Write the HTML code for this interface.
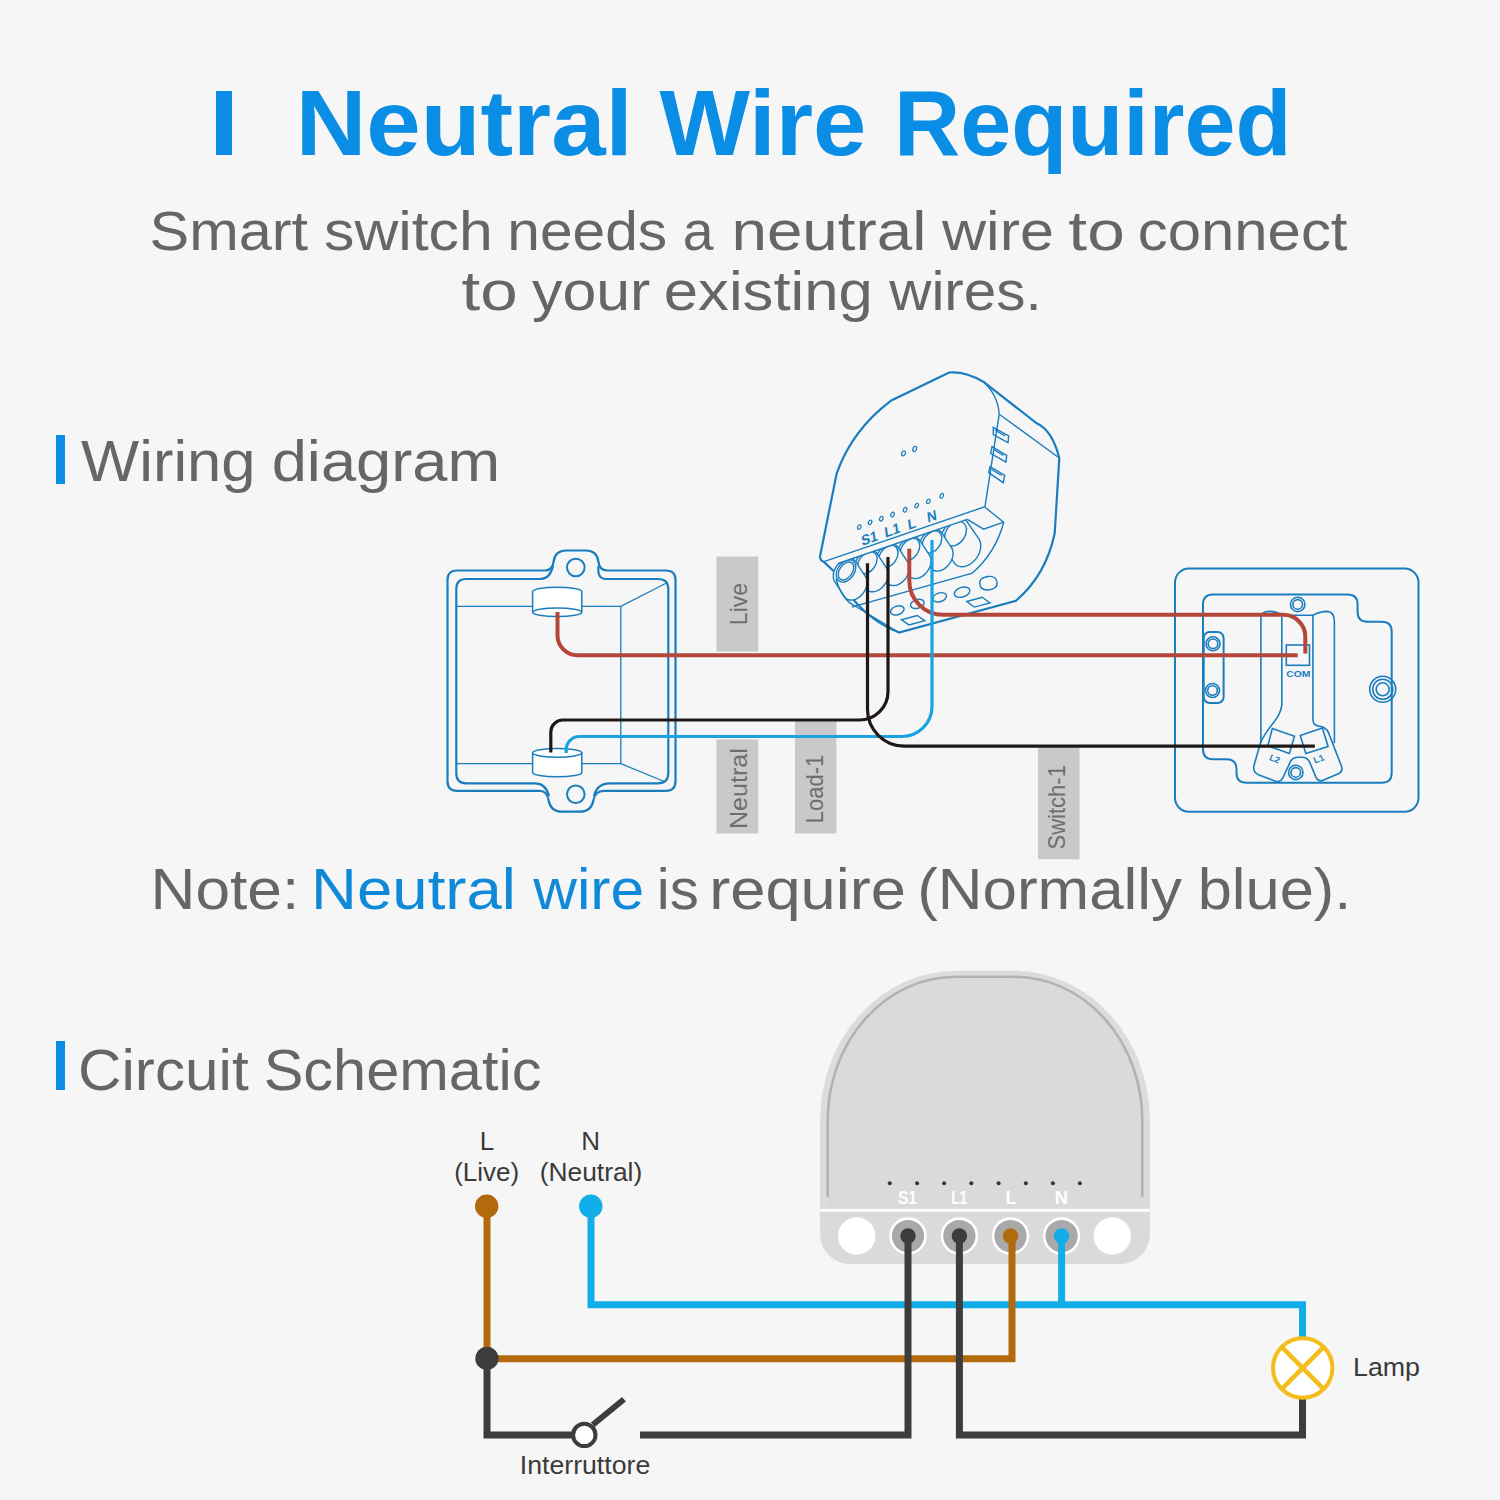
<!DOCTYPE html>
<html><head><meta charset="utf-8">
<style>
html,body{margin:0;padding:0;background:#f6f6f6;}
body{width:1500px;height:1500px;overflow:hidden;}
svg{display:block;}
text{font-family:"Liberation Sans",sans-serif;}
</style></head>
<body>
<svg width="1500" height="1500" viewBox="0 0 1500 1500">
<rect x="0" y="0" width="1500" height="1500" fill="#f6f6f6"/>
<!-- TITLE -->
<rect x="216" y="91" width="16" height="64" fill="#0a8de4"/>
<text x="295.69" y="155" font-size="93" font-weight="bold" fill="#0a8de4" textLength="337.07" lengthAdjust="spacingAndGlyphs">Neutral</text>
<text x="659.5" y="155" font-size="93" font-weight="bold" fill="#0a8de4" textLength="206.83" lengthAdjust="spacingAndGlyphs">Wire</text>
<text x="893.88" y="155" font-size="93" font-weight="bold" fill="#0a8de4" textLength="397.6" lengthAdjust="spacingAndGlyphs">Required</text>
<text x="149.52" y="249.5" font-size="56" fill="#666666" textLength="158.57" lengthAdjust="spacingAndGlyphs">Smart</text>
<text x="324.03" y="249.5" font-size="56" fill="#666666" textLength="168.77" lengthAdjust="spacingAndGlyphs">switch</text>
<text x="507.31" y="249.5" font-size="56" fill="#666666" textLength="159.89" lengthAdjust="spacingAndGlyphs">needs</text>
<text x="682.82" y="249.5" font-size="56" fill="#666666" textLength="30.83" lengthAdjust="spacingAndGlyphs">a</text>
<text x="731.45" y="249.5" font-size="56" fill="#666666" textLength="194.87" lengthAdjust="spacingAndGlyphs">neutral</text>
<text x="942.0" y="249.5" font-size="56" fill="#666666" textLength="111.93" lengthAdjust="spacingAndGlyphs">wire</text>
<text x="1068.39" y="249.5" font-size="56" fill="#666666" textLength="56.37" lengthAdjust="spacingAndGlyphs">to</text>
<text x="1137.86" y="249.5" font-size="56" fill="#666666" textLength="209.59" lengthAdjust="spacingAndGlyphs">connect</text>
<text x="461.6" y="309.5" font-size="56" fill="#666666" textLength="56.15" lengthAdjust="spacingAndGlyphs">to</text>
<text x="532.0" y="309.5" font-size="56" fill="#666666" textLength="118.32" lengthAdjust="spacingAndGlyphs">your</text>
<text x="663.8" y="309.5" font-size="56" fill="#666666" textLength="208.97" lengthAdjust="spacingAndGlyphs">existing</text>
<text x="889.2" y="309.5" font-size="56" fill="#666666" textLength="152.56" lengthAdjust="spacingAndGlyphs">wires.</text>
<!-- HEADINGS -->
<rect x="56" y="435" width="9" height="49" fill="#0a8de4"/>
<text x="81.1" y="480.5" font-size="57" fill="#666666" textLength="174.5" lengthAdjust="spacingAndGlyphs">Wiring</text>
<text x="271.68" y="480.5" font-size="57" fill="#666666" textLength="228.49" lengthAdjust="spacingAndGlyphs">diagram</text>
<rect x="56" y="1041" width="9" height="49" fill="#0a8de4"/>
<text x="78.03" y="1090" font-size="57" fill="#666666" textLength="170.61" lengthAdjust="spacingAndGlyphs">Circuit</text>
<text x="263.67" y="1090" font-size="57" fill="#666666" textLength="277.83" lengthAdjust="spacingAndGlyphs">Schematic</text>
<!-- NOTE -->
<text x="150.54" y="909" font-size="57" fill="#666666" textLength="148.69" lengthAdjust="spacingAndGlyphs">Note:</text>
<text x="311.13" y="909" font-size="57" fill="#108ad8" textLength="204.75" lengthAdjust="spacingAndGlyphs">Neutral</text>
<text x="533.2" y="909" font-size="57" fill="#108ad8" textLength="110.97" lengthAdjust="spacingAndGlyphs">wire</text>
<text x="656.72" y="909" font-size="57" fill="#666666" textLength="42.0" lengthAdjust="spacingAndGlyphs">is</text>
<text x="709.16" y="909" font-size="57" fill="#666666" textLength="196.84" lengthAdjust="spacingAndGlyphs">require</text>
<text x="917.15" y="909" font-size="57" fill="#666666" textLength="264.96" lengthAdjust="spacingAndGlyphs">(Normally</text>
<text x="1197.69" y="909" font-size="57" fill="#666666" textLength="153.64" lengthAdjust="spacingAndGlyphs">blue).</text>
<!-- WIRING -->
<g id="wiring">
<!-- labels -->
<g fill="#c9c9c9">
<rect x="716.5" y="556.5" width="41.8" height="95.1"/>
<rect x="716.5" y="739.5" width="41.8" height="94"/>
<rect x="795" y="720.8" width="41.4" height="112.7"/>
<rect x="1037.9" y="747.2" width="41.6" height="112"/>
</g>
<g fill="#6e6e6e" font-size="24" text-anchor="middle">
<text transform="translate(747 604) rotate(-90)" textLength="42.5" lengthAdjust="spacingAndGlyphs">Live</text>
<text transform="translate(747 788.6) rotate(-90)" textLength="81" lengthAdjust="spacingAndGlyphs">Neutral</text>
<text transform="translate(823 789) rotate(-90)" textLength="68.5" lengthAdjust="spacingAndGlyphs">Load-1</text>
<text transform="translate(1065.3 807.3) rotate(-90)" textLength="84.3" lengthAdjust="spacingAndGlyphs">Switch-1</text>
</g>
<!-- junction box -->
<g fill="none" stroke="#1a7dbd" stroke-width="2.2">
<path d="M447.5,580 Q447.5,570.5 457,570.5 L545,570.5 Q552.5,570.5 553.5,562 Q555,550.5 566,550.5 L586,550.5 Q597,550.5 598.5,562 Q599.5,570.5 607,570.5 L666,570.5 Q675.5,570.5 675.5,580 L675.5,781 Q675.5,790.8 666,790.8 L604,790.8 Q595,790.8 593.5,800 Q591.5,811.7 580,811.7 L562,811.7 Q550.5,811.7 548.5,800 Q547,790.8 540,790.8 L457,790.8 Q447.5,790.8 447.5,781 Z"/>
<path d="M540,579 L466,579 Q456.3,579 456.3,589 L456.3,773 Q456.3,783.3 466,783.3 L535,783.3 Q546,783.3 549,796"/>
<path d="M606,579 L658,579 Q668.3,579 668.3,589 L668.3,773 Q668.3,783.3 658,783.3 L610,783.3 Q597,783.3 594,796"/>
<path d="M540,579 Q550,579 553,566 M606,579 Q597,579 598.5,566"/>
<circle cx="575.8" cy="567.5" r="8.8" stroke-width="2"/>
<circle cx="575.8" cy="794.2" r="8.8" stroke-width="2"/>
</g>
<g fill="none" stroke="#1a7dbd" stroke-width="1.3">
<path d="M456.3,606.3 L620.8,606.3 L667.5,582.5 M620.8,606.3 L620.8,763.7 L456.3,763.7 M620.8,763.7 L665.5,782"/>
</g>
<g stroke="#1a7dbd" stroke-width="1.5" fill="#ffffff">
<path d="M532.6,591.5 A24.6,4.3 0 0 1 581.8,591.5 L581.8,612.3 A24.6,4.3 0 0 1 532.6,612.3 Z"/>
<path d="M532.6,612.3 A24.6,4.3 0 0 1 581.8,612.3" fill="none"/>
<path d="M532.6,752.8 L532.6,772.4 A24.6,4.3 0 0 0 581.8,772.4 L581.8,752.8 Z"/>
<ellipse cx="557.2" cy="752.8" rx="24.6" ry="4.4"/>
</g>
<!-- switch plate -->
<g fill="none" stroke="#1a7dbd" stroke-width="2">
<rect x="1175" y="568.5" width="243.5" height="243.3" rx="14"/>
<path d="M1203,604.4 Q1203,594.4 1213,594.4 L1347.6,594.4 Q1357.6,594.4 1357.6,604.4 L1357.6,611.7 Q1357.6,621.7 1367.6,621.7 L1381.7,621.7 Q1391.7,621.7 1391.7,631.7 L1391.7,772.7 Q1391.7,782.7 1381.7,782.7 L1246.5,782.7 Q1236.5,782.7 1236.5,772.7 L1236.5,769.3 Q1236.5,759.3 1226.5,759.3 L1213,759.3 Q1203,759.3 1203,749.3 Z"/>
<rect x="1203.7" y="632" width="19.9" height="71" rx="6"/>
</g>
<g fill="none" stroke="#1a7dbd" stroke-width="1.6">
<circle cx="1213" cy="643.8" r="7"/><circle cx="1213" cy="643.8" r="4.8"/>
<circle cx="1212.5" cy="690.5" r="7"/><circle cx="1212.5" cy="690.5" r="4.8"/>
<circle cx="1382.7" cy="689.3" r="13"/><circle cx="1382.7" cy="689.3" r="10"/><circle cx="1382.7" cy="689.3" r="6.5"/>
<circle cx="1297.7" cy="604.4" r="7.2"/><circle cx="1297.7" cy="604.4" r="4.8"/>
<circle cx="1295.8" cy="772.4" r="7.2"/><circle cx="1295.8" cy="772.4" r="4.8"/>
<path d="M1260.9,743.2 L1260.9,618 Q1261.5,611.4 1269,611.4 Q1276,611.4 1281.8,615.2 L1312.9,615.2 Q1320,611.4 1327.5,611.4 Q1334.4,612 1334.4,622 L1334.4,743.2"/>
<path d="M1281.8,616.5 L1281.8,705.2 Q1280.6,714.1 1274.2,721.7 Q1264.1,734.3 1260.3,743.2 L1253.9,766 Q1252.7,772.4 1259,774.9 L1275.5,781.2 Q1280.6,782.5 1283.1,777.4 L1290.7,761 Q1293.2,757.2 1298.3,757.2 L1302.1,757.2 Q1307.2,757.2 1309.7,762.2 L1316,777.4 Q1318.6,782.5 1323.7,780 L1338.9,773.6 Q1343.3,771.1 1341.4,766 L1328.7,733.1 Q1326.2,726.7 1318.6,726.1 Q1312.9,725.5 1312.9,719.1 L1312.9,615.2"/>
<path d="M1272.3,728.6 L1294.5,736.2 L1289.4,753.4 L1267.9,745.8 Z"/>
<path d="M1300.2,735.6 L1322.4,728 L1328.1,746.4 L1305.9,753.4 Z"/>
<rect x="1286.3" y="645" width="23.2" height="20.3"/>
</g>
<g fill="#1a7dbd" font-weight="bold">
<text x="1298.4" y="677.3" font-size="9.5" text-anchor="middle" textLength="24.3" lengthAdjust="spacingAndGlyphs">COM</text>
<text x="1274.9" y="762" font-size="9" text-anchor="middle" transform="rotate(22 1274.9 758.4)">L2</text>
<text x="1318.6" y="762" font-size="9" text-anchor="middle" transform="rotate(-22 1318.6 758.4)">L1</text>
</g>
<!-- module -->
<g id="module">
<defs><clipPath id="blk"><path d="M820,568 L838,563.5 L967.3,519.4 L983.6,529.2 L1003.7,522.2 L1010,560 L990,640 L830,640 Z"/></clipPath></defs>
<path d="M949.2,372.5 L890.8,400.8 Q852,430 836.7,473.3 L820.1,556 Q819.5,560 823.9,562 L834.6,571.9 Q834,582 848.6,593.3 Q868,620 899,632.5 L1016,600.7 Q1046,575 1054.7,533.3 L1059.3,458 Q1052,430 1036.7,423.3 L983.3,381.7 Q965,371 949.2,372.5 Z" fill="#f6f6f6" stroke="#1a7dbd" stroke-width="2.2"/>
<g fill="none" stroke="#1a7dbd" stroke-width="1.4">
<path d="M983.3,381.7 Q998,395 999.2,414.2 L985,506.7 L823.9,561.6"/>
<path d="M999.2,414.2 L1059.3,458"/>
<path d="M985,507.3 L1003.7,522.2 Q996,552 972.4,573.1 L880,599.2 L852,607"/>
<path d="M1003.7,522.2 L983.6,529.2 L967.3,519.4"/>
</g>
<g clip-path="url(#blk)">
<g fill="#f6f6f6" stroke="#1a7dbd" stroke-width="1.4"><path d="M941.1,539.8 L941.1,538.4 L941.3,537.0 L941.5,535.7 L941.9,534.3 L942.3,532.9 L942.9,531.5 L943.6,530.1 L944.3,528.8 L945.2,527.5 L946.1,526.3 L947.1,525.1 L948.1,524.1 L949.2,523.1 L950.4,522.1 L951.6,521.3 L952.8,520.6 L954.0,520.0 L955.3,519.5 L956.5,519.1 L957.7,518.8 L959.0,518.7 L960.2,518.7 L961.3,518.8 L962.4,519.0 L963.5,519.3 L964.5,519.8 L965.4,520.4 L966.3,521.0 L967.1,521.8 L967.7,522.7 L978.7,538.7 L979.3,539.7 L979.8,540.7 L980.2,541.9 L980.5,543.1 L980.7,544.3 L980.7,545.6 L980.7,547.0 L980.5,548.4 L980.3,549.7 L979.9,551.1 L979.5,552.5 L978.9,553.9 L978.2,555.3 L977.5,556.6 L976.6,557.9 L975.7,559.1 L974.7,560.3 L973.7,561.3 L972.6,562.3 L971.4,563.3 L970.2,564.1 L969.0,564.8 L967.8,565.4 L966.5,565.9 L965.3,566.3 L964.1,566.6 L962.8,566.7 L961.6,566.7 L960.5,566.6 L959.4,566.4 L958.3,566.1 L957.3,565.6 L956.4,565.0 L955.5,564.4 L954.7,563.6 L954.1,562.7 L943.1,546.7 L942.5,545.7 L942.0,544.7 L941.6,543.5 L941.3,542.3 L941.1,541.1 Z" fill="#f6f6f6"/><ellipse cx="955.5" cy="533.7" rx="9.6" ry="13.4" transform="rotate(35 955.5 533.7)" fill="#f6f6f6"/><path d="M919.3,547.3 L919.3,546.1 L919.4,545.0 L919.6,543.8 L919.9,542.6 L920.3,541.4 L920.8,540.3 L921.4,539.1 L922.0,538.0 L922.7,536.9 L923.5,535.9 L924.3,534.9 L925.2,534.0 L926.1,533.1 L927.1,532.4 L928.1,531.7 L929.2,531.1 L930.2,530.5 L931.3,530.1 L932.3,529.8 L933.4,529.6 L934.4,529.5 L935.4,529.4 L936.4,529.5 L937.4,529.7 L938.3,530.0 L939.1,530.4 L939.9,530.9 L940.6,531.5 L941.3,532.1 L941.8,532.9 L951.3,547.4 L951.8,548.2 L952.3,549.1 L952.6,550.0 L952.8,551.1 L953.0,552.1 L953.0,553.2 L953.0,554.4 L952.9,555.5 L952.7,556.7 L952.4,557.9 L952.0,559.1 L951.5,560.2 L950.9,561.4 L950.3,562.5 L949.6,563.6 L948.8,564.6 L948.0,565.6 L947.1,566.5 L946.2,567.4 L945.2,568.1 L944.2,568.8 L943.1,569.4 L942.1,570.0 L941.0,570.4 L940.0,570.7 L938.9,570.9 L937.9,571.0 L936.9,571.1 L935.9,571.0 L934.9,570.8 L934.0,570.5 L933.2,570.1 L932.4,569.6 L931.7,569.0 L931.0,568.4 L930.5,567.6 L921.0,553.1 L920.5,552.3 L920.0,551.4 L919.7,550.5 L919.5,549.4 L919.3,548.4 Z" fill="#f6f6f6"/><ellipse cx="932.0" cy="542.0" rx="8.4" ry="12.2" transform="rotate(35 932.0 542.0)" fill="#f6f6f6"/><path d="M897.3,554.8 L897.3,553.6 L897.4,552.5 L897.6,551.3 L897.9,550.1 L898.3,548.9 L898.8,547.8 L899.4,546.6 L900.0,545.5 L900.7,544.4 L901.5,543.4 L902.3,542.4 L903.2,541.5 L904.1,540.6 L905.1,539.9 L906.1,539.2 L907.2,538.6 L908.2,538.0 L909.3,537.6 L910.3,537.3 L911.4,537.1 L912.4,537.0 L913.4,536.9 L914.4,537.0 L915.4,537.2 L916.3,537.5 L917.1,537.9 L917.9,538.4 L918.6,539.0 L919.3,539.6 L919.8,540.4 L929.3,554.9 L929.8,555.7 L930.3,556.6 L930.6,557.5 L930.8,558.6 L931.0,559.6 L931.0,560.7 L931.0,561.9 L930.9,563.0 L930.7,564.2 L930.4,565.4 L930.0,566.6 L929.5,567.7 L928.9,568.9 L928.3,570.0 L927.6,571.1 L926.8,572.1 L926.0,573.1 L925.1,574.0 L924.2,574.9 L923.2,575.6 L922.2,576.3 L921.1,576.9 L920.1,577.5 L919.0,577.9 L918.0,578.2 L916.9,578.4 L915.9,578.5 L914.9,578.6 L913.9,578.5 L912.9,578.3 L912.0,578.0 L911.2,577.6 L910.4,577.1 L909.7,576.5 L909.0,575.9 L908.5,575.1 L899.0,560.6 L898.5,559.8 L898.0,558.9 L897.7,558.0 L897.5,556.9 L897.3,555.9 Z" fill="#f6f6f6"/><ellipse cx="910.0" cy="549.5" rx="8.4" ry="12.2" transform="rotate(35 910.0 549.5)" fill="#f6f6f6"/><path d="M875.6,561.8 L875.6,560.6 L875.7,559.5 L875.9,558.3 L876.2,557.1 L876.6,555.9 L877.1,554.8 L877.7,553.6 L878.3,552.5 L879.0,551.4 L879.8,550.4 L880.6,549.4 L881.5,548.5 L882.4,547.6 L883.4,546.9 L884.4,546.2 L885.5,545.6 L886.5,545.0 L887.6,544.6 L888.6,544.3 L889.7,544.1 L890.7,544.0 L891.7,543.9 L892.7,544.0 L893.7,544.2 L894.6,544.5 L895.4,544.9 L896.2,545.4 L896.9,546.0 L897.6,546.6 L898.1,547.4 L907.6,561.9 L908.1,562.7 L908.6,563.6 L908.9,564.5 L909.1,565.6 L909.3,566.6 L909.3,567.7 L909.3,568.9 L909.2,570.0 L909.0,571.2 L908.7,572.4 L908.3,573.6 L907.8,574.7 L907.2,575.9 L906.6,577.0 L905.9,578.1 L905.1,579.1 L904.3,580.1 L903.4,581.0 L902.5,581.9 L901.5,582.6 L900.5,583.3 L899.4,583.9 L898.4,584.5 L897.3,584.9 L896.3,585.2 L895.2,585.4 L894.2,585.5 L893.2,585.6 L892.2,585.5 L891.2,585.3 L890.3,585.0 L889.5,584.6 L888.7,584.1 L888.0,583.5 L887.3,582.9 L886.8,582.1 L877.3,567.6 L876.8,566.8 L876.3,565.9 L876.0,565.0 L875.8,563.9 L875.6,562.9 Z" fill="#f6f6f6"/><ellipse cx="888.3" cy="556.5" rx="8.4" ry="12.2" transform="rotate(35 888.3 556.5)" fill="#f6f6f6"/><path d="M854.6,568.0 L854.6,566.8 L854.7,565.7 L854.9,564.5 L855.2,563.3 L855.6,562.1 L856.1,561.0 L856.7,559.8 L857.3,558.7 L858.0,557.6 L858.8,556.6 L859.6,555.6 L860.5,554.7 L861.4,553.8 L862.4,553.1 L863.4,552.4 L864.5,551.8 L865.5,551.2 L866.6,550.8 L867.6,550.5 L868.7,550.3 L869.7,550.2 L870.7,550.1 L871.7,550.2 L872.7,550.4 L873.6,550.7 L874.4,551.1 L875.2,551.6 L875.9,552.2 L876.6,552.8 L877.1,553.6 L886.6,568.1 L887.1,568.9 L887.6,569.8 L887.9,570.7 L888.1,571.8 L888.3,572.8 L888.3,573.9 L888.3,575.1 L888.2,576.2 L888.0,577.4 L887.7,578.6 L887.3,579.8 L886.8,580.9 L886.2,582.1 L885.6,583.2 L884.9,584.3 L884.1,585.3 L883.3,586.3 L882.4,587.2 L881.5,588.1 L880.5,588.8 L879.5,589.5 L878.4,590.1 L877.4,590.7 L876.3,591.1 L875.3,591.4 L874.2,591.6 L873.2,591.7 L872.2,591.8 L871.2,591.7 L870.2,591.5 L869.3,591.2 L868.5,590.8 L867.7,590.3 L867.0,589.7 L866.3,589.1 L865.8,588.3 L856.3,573.8 L855.8,573.0 L855.3,572.1 L855.0,571.2 L854.8,570.1 L854.6,569.1 Z" fill="#f6f6f6"/><ellipse cx="867.3" cy="562.7" rx="8.4" ry="12.2" transform="rotate(35 867.3 562.7)" fill="#f6f6f6"/><path d="M833.3,576.3 L833.3,575.1 L833.4,574.0 L833.6,572.8 L833.9,571.6 L834.3,570.4 L834.8,569.3 L835.4,568.1 L836.0,567.0 L836.7,565.9 L837.5,564.9 L838.3,563.9 L839.2,563.0 L840.1,562.1 L841.1,561.4 L842.1,560.7 L843.2,560.1 L844.2,559.5 L845.3,559.1 L846.3,558.8 L847.4,558.6 L848.4,558.5 L849.4,558.4 L850.4,558.5 L851.4,558.7 L852.3,559.0 L853.1,559.4 L853.9,559.9 L854.6,560.5 L855.3,561.1 L855.8,561.9 L865.3,576.4 L865.8,577.2 L866.3,578.1 L866.6,579.0 L866.8,580.1 L867.0,581.1 L867.0,582.2 L867.0,583.4 L866.9,584.5 L866.7,585.7 L866.4,586.9 L866.0,588.1 L865.5,589.2 L864.9,590.4 L864.3,591.5 L863.6,592.6 L862.8,593.6 L862.0,594.6 L861.1,595.5 L860.2,596.4 L859.2,597.1 L858.2,597.8 L857.1,598.4 L856.1,599.0 L855.0,599.4 L854.0,599.7 L852.9,599.9 L851.9,600.0 L850.9,600.1 L849.9,600.0 L848.9,599.8 L848.0,599.5 L847.2,599.1 L846.4,598.6 L845.7,598.0 L845.0,597.4 L844.5,596.6 L835.0,582.1 L834.5,581.3 L834.0,580.4 L833.7,579.5 L833.5,578.4 L833.3,577.4 Z" fill="#f6f6f6"/><ellipse cx="846.0" cy="571.0" rx="8.4" ry="12.2" transform="rotate(35 846.0 571.0)" fill="#f6f6f6"/><ellipse cx="846.0" cy="571.0" rx="6.4" ry="10" transform="rotate(35 846.0 571.0)" fill="none"/></g>
<g fill="none" stroke="#1a7dbd" stroke-width="1.4"></g>
</g>
<g fill="none" stroke="#1a7dbd" stroke-width="1.4">
<path d="M838,563.5 L967.3,519.4"/>
<path d="M836,579 Q842,600 855,606 L899,632.5"/>
<ellipse cx="897.3" cy="610.4" rx="7" ry="4.3" transform="rotate(-18 897.3 610.4)"/>
<ellipse cx="917.3" cy="603.9" rx="7" ry="4.3" transform="rotate(-18 917.3 603.9)"/>
<ellipse cx="939.7" cy="597.3" rx="7" ry="4.4" transform="rotate(-18 939.7 597.3)"/>
<ellipse cx="962.1" cy="592.2" rx="8" ry="4.8" transform="rotate(-18 962.1 592.2)"/>
<path d="M980,585 Q978,578 988,576.5 Q996,575.5 997,582 Q998,589 988,590 Q981,590 980,585 Z"/>
<path d="M901.5,619.7 L917.3,615.5 L924.8,620.7 L908.9,624.9 Z"/>
<path d="M966.8,601.5 L982.2,597.3 L990.1,603 L974.3,607.1 Z"/>
<path d="M993.3,427.3 L1008.7,436 L1008,442.7 L993.3,434.7 Z M995,430 L1005,436"/>
<path d="M992,446.7 L1006.7,455.3 L1006,462 L990.7,453.3 Z M993.5,449.5 L1003.5,455.5"/>
<path d="M990,466.7 L1004.7,475.3 L1003.3,482.7 L988.7,472.7 Z M991.5,469.5 L1001.5,475.5"/>
</g>
<g fill="none" stroke="#1a7dbd" stroke-width="1.2">
<ellipse cx="903.5" cy="453.3" rx="1.8" ry="2.6" transform="rotate(25 903.5 453.3)"/>
<ellipse cx="914.7" cy="449" rx="1.8" ry="2.6" transform="rotate(25 914.7 449)"/>
<ellipse cx="859.3" cy="527.1" rx="1.6" ry="2.4" transform="rotate(25 859.3 527.1)"/><ellipse cx="870.1" cy="522.4" rx="1.6" ry="2.4" transform="rotate(25 870.1 522.4)"/><ellipse cx="881.3" cy="518.7" rx="1.6" ry="2.4" transform="rotate(25 881.3 518.7)"/><ellipse cx="892.5" cy="514.5" rx="1.6" ry="2.4" transform="rotate(25 892.5 514.5)"/><ellipse cx="905.1" cy="509.8" rx="1.6" ry="2.4" transform="rotate(25 905.1 509.8)"/><ellipse cx="916.7" cy="505.6" rx="1.6" ry="2.4" transform="rotate(25 916.7 505.6)"/><ellipse cx="928.4" cy="501.4" rx="1.6" ry="2.4" transform="rotate(25 928.4 501.4)"/><ellipse cx="941.7" cy="495.8" rx="1.6" ry="2.4" transform="rotate(25 941.7 495.8)"/>
</g>
<g fill="#1a7dbd" font-weight="bold" font-size="14" text-anchor="middle">
<text transform="translate(870 543) rotate(-20) skewX(-12)">S1</text>
<text transform="translate(893 535) rotate(-20) skewX(-12)">L1</text>
<text transform="translate(912.5 528.5) rotate(-20) skewX(-12)">L</text>
<text transform="translate(932.5 521) rotate(-20) skewX(-12)">N</text>
</g>
</g>
<!-- wires -->
<g fill="none" stroke-linecap="butt">
<path d="M557.5,612 L557.5,635.2 A20,20 0 0 0 577.5,655.2 L1297.7,655.2" stroke="#b5463a" stroke-width="4"/>
<path d="M909.3,548.7 L909.3,580.8 A34,34 0 0 0 943.3,614.8 L1283.3,614.8 A22,22 0 0 1 1305.3,636.8 L1305.3,653.5" stroke="#b5463a" stroke-width="4"/>
<path d="M566.2,753 L566.2,749.5 A13,13 0 0 1 579.2,736.5 L902,736.5 A30,30 0 0 0 932,706.5 L932,540" stroke="#1ba2e0" stroke-width="3.2"/>
<path d="M550.8,752.5 L550.8,732 A12,12 0 0 1 562.8,720 L859.5,720 A28.5,28.5 0 0 0 888,691.5 L888,557" stroke="#1e1816" stroke-width="3.2"/>
<path d="M867.5,563.3 L867.5,709 A37,37 0 0 0 904.5,746.2 L1314.8,746.2" stroke="#1e1816" stroke-width="3.2"/>
</g>
</g>
<!-- SCHEMATIC -->
<g id="schematic">
<!-- module -->
<path d="M820,1234 L820,1120.8 A135.7,150 0 0 1 955.7,970.8 L1014.3,970.8 A135.7,150 0 0 1 1150,1120.8 L1150,1234 A30,30 0 0 1 1120,1264 L850,1264 A30,30 0 0 1 820,1234 Z" fill="#dcdcdc"/>
<path d="M827.7,1209 L827.7,1120.8 A128,144 0 0 1 955.7,976.8 L1014.3,976.8 A128,144 0 0 1 1142.3,1120.8 L1142.3,1209 Z" fill="#dadada"/>
<path d="M827.7,1196 L827.7,1120.8 A128,144 0 0 1 955.7,976.8 L1014.3,976.8 A128,144 0 0 1 1142.3,1120.8 L1142.3,1196" fill="none" stroke="#b2b2b2" stroke-width="2.6" stroke-linecap="round"/>
<path d="M821,1212 L1149,1212 L1149,1234 A30,30 0 0 1 1119,1264 L851,1264 A30,30 0 0 1 821,1234 Z" fill="#dadada"/>
<rect x="820.5" y="1208.9" width="329" height="2.8" fill="#ffffff"/>
<g fill="#333333">
<circle cx="889.8" cy="1183.3" r="2"/><circle cx="917.1" cy="1183.3" r="2"/><circle cx="944.1" cy="1183.3" r="2"/><circle cx="971.3" cy="1183.3" r="2"/><circle cx="998.6" cy="1183.3" r="2"/><circle cx="1025.9" cy="1183.3" r="2"/><circle cx="1052.9" cy="1183.3" r="2"/><circle cx="1079.9" cy="1183.3" r="2"/>
</g>
<g fill="#ffffff" font-size="18.3" font-weight="bold" text-anchor="middle">
<text x="907.5" y="1203.6" textLength="19" lengthAdjust="spacingAndGlyphs">S1</text><text x="959.2" y="1203.6" textLength="16" lengthAdjust="spacingAndGlyphs">L1</text><text x="1011" y="1203.6">L</text><text x="1061.3" y="1203.6">N</text>
</g>
<circle cx="856.7" cy="1236" r="18.7" fill="#ffffff"/>
<circle cx="1112.3" cy="1236" r="18.7" fill="#ffffff"/>
<g fill="#a9a9a9" stroke="#ffffff" stroke-width="2.6">
<circle cx="908" cy="1236" r="17.4"/><circle cx="959.4" cy="1236" r="17.4"/><circle cx="1010.5" cy="1236" r="17.4"/><circle cx="1061.6" cy="1236" r="17.4"/>
</g>
<!-- wires -->
<g fill="none" stroke-width="7" stroke-linecap="butt" stroke-linejoin="miter">
<path d="M591,1206 L591,1304.8 L1302.5,1304.8 L1302.5,1340" stroke="#12aee9"/>
<path d="M1061.6,1236 L1061.6,1304.8" stroke="#12aee9"/>
<path d="M487,1206 L487,1358.8 L1012,1358.8 L1012,1236" stroke="#b36a0c"/>
<path d="M908,1236 L908,1434.9 L640,1434.9" stroke="#3d3d3d"/>
<path d="M959.4,1236 L959.4,1434.9 L1302.5,1434.9 L1302.5,1396" stroke="#3d3d3d"/>
<path d="M487,1358.8 L487,1434.9 L575,1434.9" stroke="#3d3d3d"/>
<path d="M592.8,1424.8 L624,1399.2" stroke="#3d3d3d" stroke-width="6"/>
</g>
<circle cx="908" cy="1236" r="7.7" fill="#3d3d3d"/>
<circle cx="959.4" cy="1236" r="7.7" fill="#3d3d3d"/>
<circle cx="1010.5" cy="1236" r="7.7" fill="#b36a0c"/>
<circle cx="1061.6" cy="1236" r="7.7" fill="#12aee9"/>
<circle cx="486.7" cy="1206.2" r="11.7" fill="#b36a0c"/>
<circle cx="590.8" cy="1206.2" r="11.7" fill="#12aee9"/>
<circle cx="486.9" cy="1358.4" r="11.6" fill="#3d3d3d"/>
<circle cx="584.3" cy="1434.9" r="11.2" fill="#ffffff" stroke="#3d3d3d" stroke-width="4"/>
<circle cx="1302.7" cy="1368" r="29.7" fill="#ffffff" stroke="#f4bd1c" stroke-width="4"/>
<path d="M1282.9,1348.2 L1322.5,1387.8 M1322.5,1348.2 L1282.9,1387.8" stroke="#f4bd1c" stroke-width="4.5"/>
<g fill="#3a3a3a" font-size="26" text-anchor="middle">
<text x="487" y="1150">L</text>
<text x="486.7" y="1181.3">(Live)</text>
<text x="590.6" y="1150">N</text>
<text x="591" y="1181.3" textLength="102.5" lengthAdjust="spacingAndGlyphs">(Neutral)</text>
<text x="585" y="1474" textLength="130.5" lengthAdjust="spacingAndGlyphs">Interruttore</text>
</g>
<text x="1353" y="1375.7" font-size="26" fill="#3a3a3a" textLength="67" lengthAdjust="spacingAndGlyphs">Lamp</text>
</g>
</svg>
</body></html>
